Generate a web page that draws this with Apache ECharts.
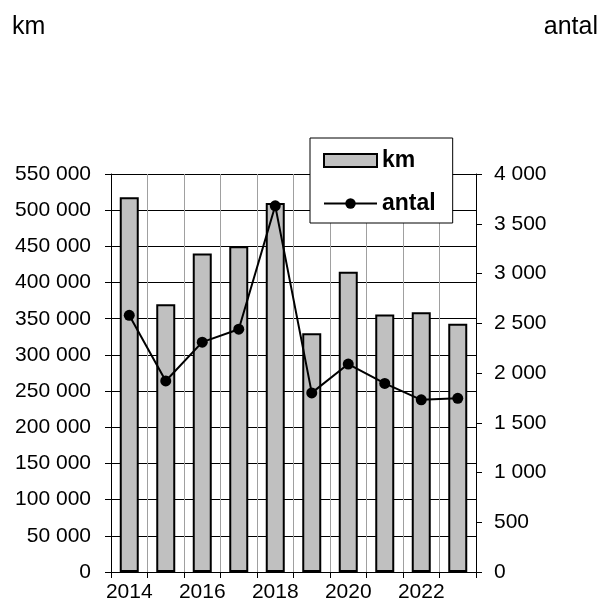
<!DOCTYPE html>
<html>
<head>
<meta charset="utf-8">
<script src="https://cdn.jsdelivr.net/npm/echarts@6/dist/echarts.min.js"></script>
<style>html,body{margin:0;padding:0;background:#fff;}#c{width:602px;height:606px;}</style>
</head>
<body>
<div id="c"></div>
<script>
const years = ['2014','2015','2016','2017','2018','2019','2020','2021','2022','2023'];
const km = [518000, 370000, 440000, 450000, 510000, 330000, 415000, 356000, 359000, 343000];
const antal = [2580, 1920, 2310, 2440, 3680, 1800, 2090, 1895, 1730, 1745];
const leftTitle = 'km';
const rightTitle = 'antal';

const fmt = v => String(v).replace(/\B(?=(\d{3})+(?!\d))/g, ' ');
const FONT = '"Liberation Sans", Arial, sans-serif';

const chart = echarts.init(document.getElementById('c'), null, {renderer: 'canvas'});
chart.setOption({
  animation: false,
  backgroundColor: '#fff',
  textStyle: {fontFamily: FONT},
  title: [
    {text: leftTitle, left: 12, top: 15, padding: 0, textStyle: {fontFamily: FONT, fontSize: 25, fontWeight: 'normal', color: '#000'}},
    {text: rightTitle, right: 4, top: 15, padding: 0, textStyle: {fontFamily: FONT, fontSize: 25, fontWeight: 'normal', color: '#000'}}
  ],
  legend: {
    orient: 'vertical',
    left: 310, top: 138,
    backgroundColor: '#fff',
    borderColor: '#000',
    borderWidth: 1,
    padding: [11, 17, 8, 13],
    itemGap: 20,
    itemWidth: 53,
    itemHeight: 13,
    textStyle: {fontFamily: FONT, fontSize: 23, lineHeight: 23, fontWeight: 'bold', color: '#000'},
    data: [{name: 'km', icon: 'rect'}, {name: 'antal'}]
  },
  grid: {left: 111, right: 126, top: 174, bottom: 34, containLabel: false},
  xAxis: {
    type: 'category',
    data: years,
    boundaryGap: true,
    axisLine: {show: true, lineStyle: {color: '#000', width: 1}},
    axisTick: {show: true, interval: 0, length: 6, lineStyle: {color: '#000'}},
    axisLabel: {interval: 1, margin: 10, fontFamily: FONT, fontSize: 21, color: '#000'},
    splitLine: {show: true, interval: 0, lineStyle: {color: '#a0a0a0', width: 1}}
  },
  yAxis: [
    {
      type: 'value', min: 0, max: 550000, interval: 50000, position: 'left',
      axisLine: {show: true, lineStyle: {color: '#000'}},
      axisTick: {show: true, length: 6, lineStyle: {color: '#000'}},
      axisLabel: {margin: 20, formatter: fmt, fontFamily: FONT, fontSize: 21, color: '#000'},
      splitLine: {show: true, lineStyle: {color: '#000', width: 1}}
    },
    {
      type: 'value', min: 0, max: 4000, interval: 500, position: 'right',
      axisLine: {show: true, lineStyle: {color: '#000'}},
      axisTick: {show: true, length: 6, lineStyle: {color: '#000'}},
      axisLabel: {margin: 18, formatter: fmt, fontFamily: FONT, fontSize: 21, color: '#000'},
      splitLine: {show: false}
    }
  ],
  series: [
    {
      name: 'km', type: 'bar', data: km, barWidth: 19, yAxisIndex: 0,
      itemStyle: {color: '#c0c0c0', borderColor: '#000', borderWidth: 2}
    },
    {
      name: 'antal', type: 'line', data: antal, yAxisIndex: 1,
      symbol: 'circle', symbolSize: 11,
      lineStyle: {color: '#000', width: 2},
      itemStyle: {color: '#000'}
    }
  ]
});
</script>
</body>
</html>
